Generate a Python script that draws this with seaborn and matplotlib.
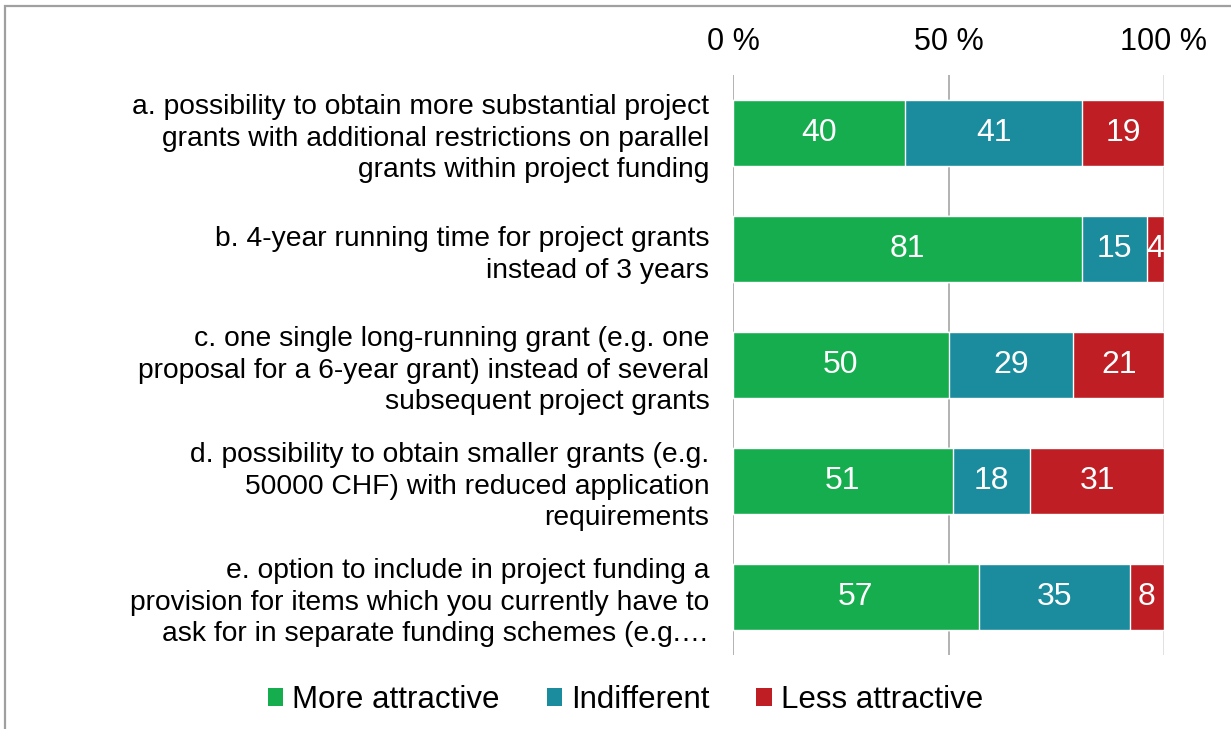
import numpy as np
import pandas as pd
import matplotlib
matplotlib.use("Agg")
import matplotlib.pyplot as plt
from matplotlib.patches import Rectangle, Patch
import seaborn as sns

# data (percent of respondents)
items = [
    "a. possibility to obtain more substantial project\ngrants with additional restrictions on parallel\ngrants within project funding",
    "b. 4-year running time for project grants\ninstead of 3 years",
    "c. one single long-running grant (e.g. one\nproposal for a 6-year grant) instead of several\nsubsequent project grants",
    "d. possibility to obtain smaller grants (e.g.\n50000 CHF) with reduced application\nrequirements",
    "e. option to include in project funding a\nprovision for items which you currently have to\nask for in separate funding schemes (e.g.\u2026",
]
more_attractive = [40, 81, 50, 51, 57]
indifferent = [41, 15, 29, 18, 35]
less_attractive = [19, 4, 21, 31, 8]

series = ["More attractive", "Indifferent", "Less attractive"]
colors = ["#16ad4f", "#1a8c9e", "#be1e24"]

sns.set_style("white")
plt.rcParams["font.family"] = ["Liberation Sans", "DejaVu Sans"]
plt.rcParams["text.color"] = "black"
plt.rcParams["xtick.color"] = "black"
plt.rcParams["ytick.color"] = "black"

df = pd.DataFrame({"item": items, "More attractive": more_attractive,
                   "Indifferent": indifferent, "Less attractive": less_attractive})
cum = df[series].cumsum(axis=1)

fig = plt.figure(figsize=(12.31, 7.29), dpi=100)
ax = fig.add_axes([733 / 1231, 1 - 655 / 729, (1164 - 733) / 1231, (655 - 75) / 729])

# gridlines behind the bars
for x, c in [(0, "#a6a6a6"), (50, "#a6a6a6"), (100, "#dcdcdc")]:
    ax.axvline(x, color=c, lw=1.2, zorder=0)

# stacked bars: draw cumulative totals back to front
for s, c in reversed(list(zip(series, colors))):
    sns.barplot(x=cum[s], y=df["item"], orient="h", color=c, width=0.57,
                saturation=1, ax=ax, zorder=2)

# value labels centred in each segment
for i in range(len(df)):
    start = 0
    for s in series:
        v = df.loc[i, s]
        ax.text(start + v / 2, i, str(v), ha="center", va="center",
                color="white", fontsize=23, zorder=3)
        start += v

ax.set_xlim(0, 100)
ax.set_ylim(4.5, -0.5)
ax.set_xticks([0, 50, 100])
ax.set_xticklabels(["0 %", "50 %", "100 %"])
ax.xaxis.tick_top()
ax.tick_params(axis="x", length=0, pad=13, labelsize=22)
ax.tick_params(axis="y", length=0, pad=17, labelsize=20.3)
ax.set_yticks(range(len(items)))
ax.set_yticklabels(items, ha="right", linespacing=1.28)
ax.set_xlabel("")
ax.set_ylabel("")
sns.despine(ax=ax, left=True, bottom=True, top=True, right=True)

handles = [Patch(facecolor=c, edgecolor="none") for c in colors]
fig.legend(handles, series, loc="center", bbox_to_anchor=(0.508, 0.040), ncol=3,
           frameon=False, fontsize=22.5, handlelength=0.5, handleheight=0.5,
           handletextpad=0.28, columnspacing=1.5)

# outer grey frame (only top and left edges visible in the image)
fig.patches.append(Rectangle((4.5 / 1231, -0.2), 1.3, 1.2 - 6 / 729,
                             transform=fig.transFigure, fill=False,
                             edgecolor="#a0a0a0", lw=1.6, zorder=10))

fig.savefig("out.png", dpi=100)
